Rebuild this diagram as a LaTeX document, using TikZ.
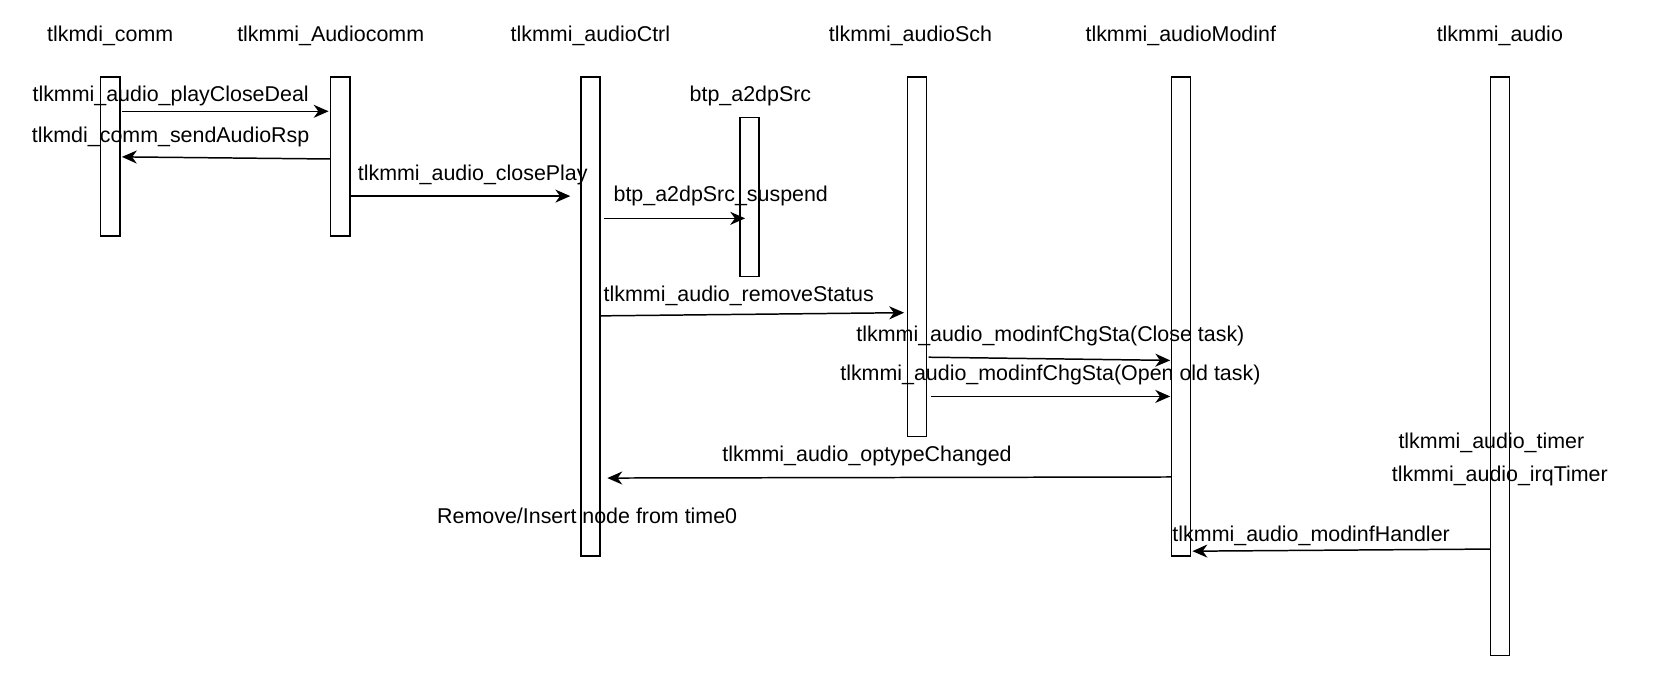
\documentclass[tikz,border=0pt]{standalone}
\usepackage{fontspec}
\setmainfont{Liberation Sans}
\usetikzlibrary{arrows.meta}

\tikzset{
  life/.style = {draw, line width = 0.8pt, fill = white, inner sep = 0pt,
    minimum width = 0.36cm, anchor = north},
  msg/.style = {line width = 0.8pt, -{Stealth[length = 8pt, width = 7pt, inset = 2.5pt]}},
  lbl/.style = {font = \fontsize{11.5}{13}\selectfont, inner sep = 0pt}
}

\begin{document}
\begin{tikzpicture}[x = 0.02cm, y = -0.02cm]
  \useasboundingbox (0, 0) rectangle (1568, 636);

  % lifeline boxes
  \node[life, minimum height = 3cm]    (comm)   at (104, 72)  {};
  \node[life, minimum height = 3cm]    (acomm)  at (321, 72)  {};
  \node[life, minimum height = 9.04cm] (ctrl)   at (557, 72)  {};
  \node[life, minimum height = 3cm]    (src)    at (707, 110) {};
  \node[life, minimum height = 6.78cm] (sch)    at (865, 72)  {};
  \node[life, minimum height = 9.04cm] (modinf) at (1114, 72) {};
  \node[life, minimum height = 10.92cm] (audio) at (1415, 72) {};

  % headers
  \node[lbl] (hComm)   at (104, 34)  {tlkmdi\_comm};
  \node[lbl] (hAcomm)  at (312, 34)  {tlkmmi\_Audiocomm};
  \node[lbl] (hCtrl)   at (557, 34)  {tlkmmi\_audioCtrl};
  \node[lbl] (hSrc)    at (708, 91)  {btp\_a2dpSrc};
  \node[lbl] (hSch)    at (859, 34)  {tlkmmi\_audioSch};
  \node[lbl] (hModinf) at (1114, 34) {tlkmmi\_audioModinf};
  \node[lbl] (hAudio)  at (1415, 34) {tlkmmi\_audio};

  % message end points
  \coordinate (m1a) at (115, 105);  \coordinate (m1b) at (310, 105);
  \coordinate (m2a) at (312, 150);  \coordinate (m2b) at (115, 148);
  \coordinate (m3a) at (330, 185);  \coordinate (m3b) at (538, 185);
  \coordinate (m4a) at (570, 206);  \coordinate (m4b) at (703, 206);
  \coordinate (m5a) at (566, 298);  \coordinate (m5b) at (853, 295);
  \coordinate (m6a) at (876, 337);  \coordinate (m6b) at (1104, 340);
  \coordinate (m7a) at (878, 374);  \coordinate (m7b) at (1104, 374);
  \coordinate (m8a) at (1105, 450); \coordinate (m8b) at (573, 451);
  \coordinate (m9a) at (1406, 518); \coordinate (m9b) at (1125, 520);

  \foreach \a/\b in {m1a/m1b, m2a/m2b, m3a/m3b, m4a/m4b, m5a/m5b,
                     m6a/m6b, m7a/m7b, m8a/m8b, m9a/m9b}{
    \draw[msg] (\a) -- (\b);
  }

  % message labels
  \node[lbl] (l1) at (161, 91)   {tlkmmi\_audio\_playCloseDeal};
  \node[lbl] (l2) at (161, 129)  {tlkmdi\_comm\_sendAudioRsp};
  \node[lbl] (l3) at (446, 165)  {tlkmmi\_audio\_closePlay};
  \node[lbl] (l4) at (680, 185)  {btp\_a2dpSrc\_suspend};
  \node[lbl] (l5) at (697, 279)  {tlkmmi\_audio\_removeStatus};
  \node[lbl] (l6) at (991, 317)  {tlkmmi\_audio\_modinfChgSta(Close task)};
  \node[lbl] (l7) at (991, 354)  {tlkmmi\_audio\_modinfChgSta(Open old task)};
  \node[lbl] (l8) at (818, 430)  {tlkmmi\_audio\_optypeChanged};
  \node[lbl] (l9) at (1237, 506) {tlkmmi\_audio\_modinfHandler};
  \node[lbl] (tRemove) at (554, 487)  {Remove/Insert node from time0};
  \node[lbl] (tTimer)  at (1407, 418) {tlkmmi\_audio\_timer};
  \node[lbl] (tIrq)    at (1415, 449) {tlkmmi\_audio\_irqTimer};
\end{tikzpicture}
\end{document}
